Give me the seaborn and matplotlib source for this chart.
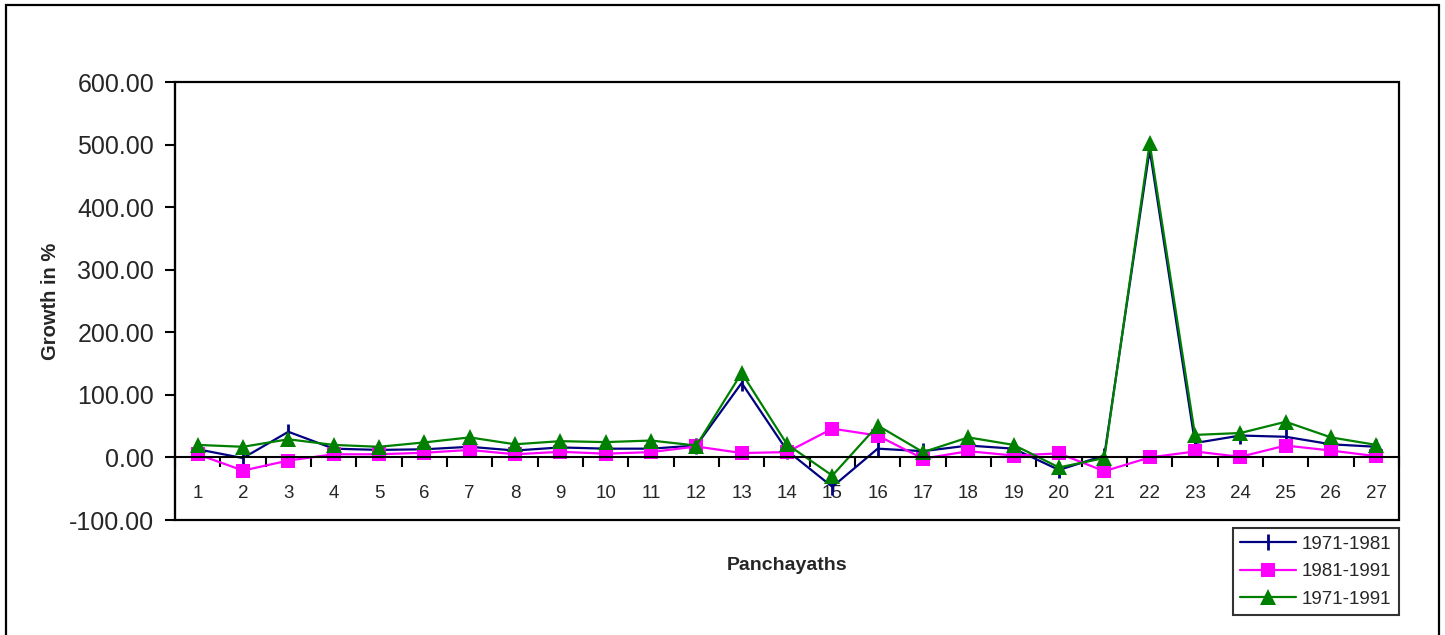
import matplotlib
matplotlib.use("Agg")
import matplotlib.pyplot as plt
from matplotlib.patches import Rectangle
import numpy as np
import pandas as pd
import seaborn as sns

# Panchayath index (category axis)
panchayaths = list(range(1, 28))

# Percentage growth per period
growth_1971_1981 = [13, -1, 41, 14, 12, 13, 17, 11, 16, 14, 14, 19, 119, 11, -47,
                    14, 10, 19, 14, -20, 3, 492, 23, 35, 33, 21, 17]
growth_1981_1991 = [5, -21, -5, 5, 5, 7.5, 12, 5, 9, 6, 8.5, 17.5, 7, 8.5, 46,
                    35, -2, 10, 3, 6.5, -22, 0, 9.5, 1, 19, 11, 2]
growth_1971_1991 = [20, 17, 29, 20, 17, 24, 32, 21, 26, 24.5, 27, 19, 135, 21, -29,
                    51, 8.5, 32, 20, -16, -1, 502, 36, 39, 57, 32, 20]

series_labels = ["1971-1981", "1981-1991", "1971-1991"]
y_ticks = [-100, 0, 100, 200, 300, 400, 500, 600]

sns.set_style("white")
plt.rcParams["font.family"] = ["Liberation Sans", "DejaVu Sans"]

fig = plt.figure(figsize=(14.45, 6.35), dpi=100)
ax = fig.add_axes([175 / 1445, 115 / 635, 1224 / 1445, 438 / 635])

df = pd.DataFrame({
    "Panchayath": panchayaths,
    series_labels[0]: growth_1971_1981,
    series_labels[1]: growth_1981_1991,
    series_labels[2]: growth_1971_1991,
})

styles = [
    dict(color="#000080", marker="|", markersize=11, markeredgewidth=2.0),
    dict(color="#FF00FF", marker="s", markersize=10, markeredgewidth=0),
    dict(color="#008000", marker="^", markersize=11, markeredgewidth=0),
]

for label, st in zip(series_labels, styles):
    sns.lineplot(data=df, x="Panchayath", y=label, ax=ax, label=label,
                 linewidth=1.6, markeredgecolor=st["color"],
                 markerfacecolor=st["color"], **st)

# Axes limits and ticks
ax.set_xlim(0.5, 27.5)
ax.set_ylim(-100, 600)
ax.set_yticks(y_ticks)
ax.set_yticklabels([f"{v:.2f}" for v in y_ticks])
ax.tick_params(axis="y", direction="out", length=7, width=1.5, pad=8,
               left=True, color="black", labelsize=18)

ax.set_xticks(panchayaths)
ax.set_xticklabels([str(p) for p in panchayaths])
ax.set_xticks(np.arange(0.5, 28.0, 1.0), minor=True)
ax.tick_params(axis="x", which="major", length=0, pad=20, labelsize=13.5)
ax.tick_params(axis="x", which="minor", direction="out", length=7, width=1.5,
               bottom=True, color="black")

# Category axis crosses at zero
for side in ["top", "right"]:
    ax.spines[side].set_visible(False)
ax.spines["bottom"].set_position(("data", 0))
ax.spines["bottom"].set_linewidth(1.5)
ax.spines["bottom"].set_color("black")
ax.spines["left"].set_linewidth(1.5)
ax.spines["left"].set_color("black")

# Plot area frame
ax.add_patch(Rectangle((0, 0), 1, 1, transform=ax.transAxes, fill=False,
                       edgecolor="black", linewidth=1.6, clip_on=False, zorder=5))

ax.set_xlabel("Panchayaths", fontsize=14, fontweight="bold")
ax.set_ylabel("Growth in %", fontsize=14.5, fontweight="bold")
ax.xaxis.set_label_coords(0.5, -0.085)
ax.yaxis.set_label_coords(-0.094, 0.5)

leg = ax.legend(loc="upper right", bbox_to_anchor=(1399 / 1445, 107 / 635),
                bbox_transform=fig.transFigure, fontsize=13.5, frameon=True,
                fancybox=False, handlelength=3.0, handletextpad=0.3,
                labelspacing=0.55, borderpad=0.4, borderaxespad=0)
leg.get_frame().set_edgecolor("black")
leg.get_frame().set_linewidth(1.5)

# Chart border
fig.patches.append(Rectangle((6 / 1445, -0.02), 1433 / 1445, 0.02 + 630 / 635,
                             transform=fig.transFigure, fill=False,
                             edgecolor="black", linewidth=1.6))

fig.savefig("out.png", dpi=100, facecolor="white")
